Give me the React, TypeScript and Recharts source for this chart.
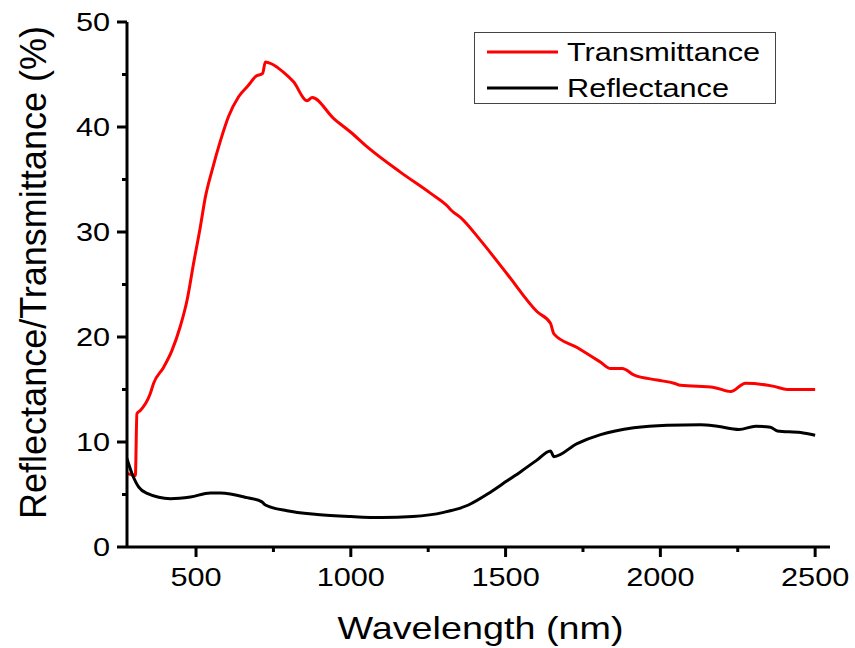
import React from 'react';
import {
  LineChart,
  Line,
  XAxis,
  YAxis,
  Legend,
  Label,
} from 'recharts';

// values
const transWavelength = [277, 290, 304, 309, 320, 352, 363, 395, 422, 449, 471, 492, 514, 530, 552, 579, 605, 638, 670, 692, 715, 724, 745, 783, 815, 859, 875, 945, 1000, 1053, 1160, 1257, 1311, 1327, 1354, 1419, 1505, 1602, 1645, 1656, 1731, 1807, 1839, 1877, 1914, 1990, 2044, 2065, 2173, 2227, 2275, 2367, 2410, 2500];
const transValues = [7.0, 6.9, 6.8, 12.7, 13.0, 14.6, 15.6, 17.1, 18.7, 21.0, 23.5, 27.0, 30.5, 33.3, 35.9, 38.7, 41.0, 42.9, 44.0, 44.8, 45.1, 46.2, 46.0, 45.2, 44.3, 42.5, 42.8, 40.8, 39.5, 38.1, 35.7, 33.7, 32.5, 32.0, 31.4, 29.2, 26.0, 22.4, 21.3, 20.3, 19.0, 17.6, 17.0, 17.0, 16.4, 15.9, 15.6, 15.4, 15.2, 14.8, 15.6, 15.3, 15.0, 15.0];

const reflWavelength = [277, 293, 315, 342, 417, 482, 546, 579, 665, 713, 724, 794, 891, 1000, 1100, 1200, 1300, 1380, 1450, 1505, 1550, 1600, 1645, 1656, 1731, 1807, 1914, 2022, 2130, 2184, 2254, 2308, 2356, 2378, 2453, 2500];
const reflValues = [8.4, 7.0, 5.7, 5.1, 4.6, 4.76, 5.14, 5.14, 4.7, 4.3, 4.0, 3.45, 3.1, 2.9, 2.8, 2.9, 3.3, 4.0, 5.2, 6.3, 7.2, 8.25, 9.15, 8.6, 9.85, 10.7, 11.35, 11.6, 11.65, 11.5, 11.2, 11.5, 11.4, 11.05, 10.9, 10.65];

const xTicks = [500, 750, 1000, 1250, 1500, 1750, 2000, 2250, 2500];
const yTicks = [0, 5, 10, 15, 20, 25, 30, 35, 40, 45, 50];

const transData = transWavelength.map((wl, i) => ({ wl, v: transValues[i] }));
const reflData = reflWavelength.map((wl, i) => ({ wl, v: reflValues[i] }));

const FONT = '"Liberation Sans", Arial, sans-serif';
const SX = 1.18; // text in the reference is a bit stretched sideways

const XTick = (props: any) => {
  const { x, y, payload } = props;
  const major = payload.value % 500 === 0;
  return (
    <g>
      <line x1={x} x2={x} y1={y} y2={y + (major ? 10 : 5)} stroke="#000" strokeWidth={3} />
      {major && (
        <text
          transform={`translate(${x},${y + 39}) scale(${SX},1)`}
          textAnchor="middle"
          fontSize={26}
          fontFamily={FONT}
          fill="#000"
        >
          {payload.value}
        </text>
      )}
    </g>
  );
};

const YTick = (props: any) => {
  const { x, y, payload } = props;
  const major = payload.value % 10 === 0;
  return (
    <g>
      <line x1={x - (major ? 10 : 5)} x2={x} y1={y} y2={y} stroke="#000" strokeWidth={3} />
      {major && (
        <text
          transform={`translate(${x - 17},${y + 9}) scale(${SX},1)`}
          textAnchor="end"
          fontSize={26}
          fontFamily={FONT}
          fill="#000"
        >
          {payload.value}
        </text>
      )}
    </g>
  );
};

const LegendBox = () => (
  <svg width={302} height={72} style={{ display: 'block' }}>
    <rect x={0.5} y={0.5} width={301} height={71} fill="#fff" stroke="#444" strokeWidth={1} />
    <line x1={13} x2={84} y1={20} y2={20} stroke="#ff0000" strokeWidth={3} />
    <line x1={13} x2={84} y1={56} y2={56} stroke="#000" strokeWidth={3} />
    <text transform={`translate(93,29) scale(${SX},1)`} fontSize={26} fontFamily={FONT} fill="#000">
      Transmittance
    </text>
    <text transform={`translate(93,65) scale(${SX},1)`} fontSize={26} fontFamily={FONT} fill="#000">
      Reflectance
    </text>
  </svg>
);

const App: React.FC = () => {
  return (
    <div style={{ position: 'absolute', left: 0, top: 0, width: 855, height: 648, background: '#fff' }}>
      <LineChart width={855} height={648} margin={{ top: 22, right: 25, left: 0, bottom: 0 }}>
        <XAxis
          xAxisId="main"
          dataKey="wl"
          type="number"
          domain={[277, 2548]}
          ticks={xTicks}
          allowDataOverflow
          height={101}
          tickSize={0}
          tickMargin={0}
          tickLine={false}
          tick={<XTick />}
          axisLine={{ stroke: '#000', strokeWidth: 3 }}
          interval={0}
        >
          <Label
            content={(p: any) => {
              const vb = p.viewBox;
              return (
                <text
                  transform={`translate(${vb.x + vb.width / 2 + 2},${vb.y + 92}) scale(${SX},1)`}
                  textAnchor="middle"
                  fontSize={32}
                  fontFamily={FONT}
                  fill="#000"
                >
                  Wavelength (nm)
                </text>
              );
            }}
          />
        </XAxis>
        <XAxis
          xAxisId="top"
          orientation="top"
          type="number"
          domain={[277, 2548]}
          height={0}
          tick={false}
          tickLine={false}
          axisLine={{ stroke: '#000', strokeWidth: 3 }}
        />
        <YAxis
          yAxisId="main"
          type="number"
          domain={[0, 50]}
          ticks={yTicks}
          width={127}
          tickSize={0}
          tickMargin={0}
          tickLine={false}
          tick={<YTick />}
          axisLine={{ stroke: '#000', strokeWidth: 3 }}
          interval={0}
        >
          <Label
            content={(p: any) => {
              const vb = p.viewBox;
              const cy = vb.y + vb.height / 2 - 12;
              return (
                <text
                  transform={`translate(46,${cy}) rotate(-90)`}
                  textAnchor="middle"
                  fontSize={36}
                  fontFamily={FONT}
                  fill="#000"
                >
                  Reflectance/Transmittance (%)
                </text>
              );
            }}
          />
        </YAxis>
        <YAxis
          yAxisId="right"
          orientation="right"
          type="number"
          domain={[0, 50]}
          width={0}
          tick={false}
          tickLine={false}
          axisLine={{ stroke: '#000', strokeWidth: 3 }}
        />
        <Legend
          layout="horizontal"
          verticalAlign="middle"
          align="center"
          content={<LegendBox />}
          wrapperStyle={{ position: 'absolute', left: 474, top: 32, width: 302, height: 72 }}
        />
        <Line
          xAxisId="main"
          yAxisId="main"
          data={transData}
          dataKey="v"
          name="Transmittance"
          type="monotone"
          stroke="#ff0000"
          strokeWidth={3}
          dot={false}
          isAnimationActive={false}
        />
        <Line
          xAxisId="main"
          yAxisId="main"
          data={reflData}
          dataKey="v"
          name="Reflectance"
          type="monotone"
          stroke="#000000"
          strokeWidth={3}
          dot={false}
          isAnimationActive={false}
        />
      </LineChart>
    </div>
  );
};

export default App;
